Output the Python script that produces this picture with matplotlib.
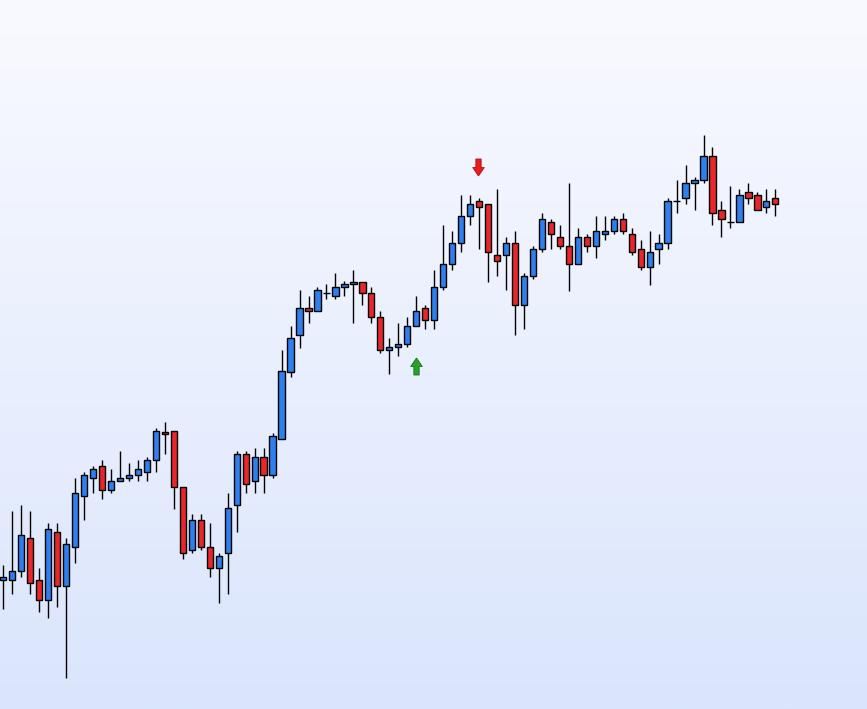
import matplotlib
matplotlib.use("Agg")
import matplotlib.pyplot as plt
import numpy as np
from matplotlib.patches import Rectangle
from matplotlib.path import Path

# OHLC values (arbitrary price units)
opens = [128.7, 128.7, 137.7, 170.7, 128.7, 108.7, 176.7, 122.7, 161.7, 212.7,
         230.7, 242.7, 218.7, 227.7, 230.7, 233.7, 236.7, 248.7, 277.3, 277.7,
         221.7, 158.7, 188.7, 161.7, 140.7, 155.7, 203.7, 254.7, 227.7, 251.7,
         233.7, 269.7, 337.3, 373.7, 400.7, 397.7, 415.7, 412.7, 421.7, 424.7,
         426.7, 415.7, 391.7, 358.7, 361.7, 364.7, 382.7, 400.7, 388.7, 421.7,
         444.7, 465.7, 492.7, 507.7, 504.7, 453.7, 453.7, 465.7, 403.7, 432.7,
         459.7, 486.7, 471.7, 462.7, 444.7, 471.7, 462.7, 474.7, 477.7, 489.7,
         474.7, 459.7, 441.7, 459.7, 465.7, 507.7, 510.7, 525.7, 528.7, 552.7,
         498.7, 486.7, 486.7, 516.7, 513.7, 501.7, 510.7]
highs = [144.0, 198.0, 203.7, 197.7, 140.7, 185.7, 185.7, 170.7, 230.7, 237.0,
         242.7, 248.7, 239.7, 257.7, 245.7, 248.7, 251.7, 280.7, 286.7, 277.7,
         221.7, 194.7, 194.7, 185.7, 155.7, 215.7, 257.7, 257.7, 260.7, 260.7,
         275.7, 359.0, 383.0, 419.0, 413.0, 421.7, 424.7, 435.7, 427.7, 438.7,
         426.7, 421.7, 397.7, 370.7, 386.0, 391.7, 413.0, 403.7, 438.7, 484.0,
         478.0, 514.0, 514.0, 510.7, 504.7, 519.7, 471.7, 478.0, 435.7, 462.7,
         495.7, 489.7, 483.7, 525.7, 480.7, 474.7, 493.0, 493.0, 493.0, 496.0,
         480.7, 468.7, 477.7, 474.7, 510.7, 528.7, 543.7, 531.7, 573.7, 561.7,
         507.7, 522.7, 519.7, 525.7, 516.7, 519.7, 519.7]
lows = [99.7, 114.7, 131.7, 114.7, 96.7, 90.7, 102.3, 30.7, 146.3, 188.7,
        215.7, 209.7, 215.7, 227.7, 227.7, 227.7, 227.7, 236.7, 254.7, 200.3,
        149.7, 155.7, 158.7, 131.7, 105.7, 114.7, 176.7, 215.7, 215.7, 215.7,
        230.7, 269.7, 331.7, 361.3, 385.7, 397.7, 409.7, 409.7, 412.7, 385.7,
        403.7, 385.7, 355.7, 334.7, 352.7, 361.7, 382.7, 379.7, 379.7, 418.7,
        438.7, 456.7, 483.7, 459.7, 426.7, 432.7, 418.7, 373.7, 379.7, 429.7,
        456.7, 459.7, 459.7, 418.3, 444.7, 456.7, 450.7, 468.7, 474.7, 474.7,
        453.7, 438.7, 424.3, 444.7, 459.7, 495.7, 504.7, 498.7, 525.7, 483.7,
        471.7, 480.7, 486.7, 504.7, 498.7, 495.7, 492.7]
closes = [131.7, 137.7, 173.7, 125.7, 108.7, 179.7, 122.7, 164.7, 215.7, 233.7,
          239.7, 218.7, 227.7, 230.7, 233.7, 239.7, 248.7, 277.7, 274.7, 221.7,
          155.7, 188.7, 161.7, 140.7, 152.7, 200.7, 254.7, 224.7, 251.7, 233.7,
          272.7, 337.7, 370.7, 400.7, 397.7, 418.7, 415.7, 421.7, 424.7, 426.7,
          415.7, 391.7, 359.0, 361.7, 364.7, 382.7, 397.7, 388.7, 421.7, 444.7,
          465.7, 492.7, 504.7, 501.7, 456.7, 447.7, 465.7, 403.7, 432.7, 459.7,
          489.7, 474.7, 462.7, 444.7, 471.7, 462.7, 477.7, 477.7, 489.7, 477.7,
          456.7, 441.7, 456.7, 465.7, 507.7, 507.7, 525.7, 528.7, 552.7, 495.7,
          489.7, 486.7, 513.7, 510.7, 498.7, 507.7, 504.7]

# Signal arrows: (candle index, price level of arrow centre)
buy_signals = [(46, 342.8)]
sell_signals = [(53, 542.3)]

UP_COLOR = "#2f80ef"
DOWN_COLOR = "#e8262b"

fig = plt.figure(figsize=(8.67, 7.09), dpi=100)
ax = fig.add_axes([0, 0, 1, 1])
ax.set_axis_off()

n = len(opens)
step_px = 8.977
x0 = -3.3 / step_px
ax.set_xlim(x0, x0 + 867 / step_px)
ax.set_ylim(0, 709)

# gradient background
grad = np.linspace(0, 1, 256).reshape(-1, 1)
top = np.array([0xf9, 0xfa, 0xff]) / 255
bot = np.array([0xda, 0xe5, 0xfc]) / 255
img = top[None, None, :] * (1 - grad[:, :, None]) + bot[None, None, :] * grad[:, :, None]
ax.imshow(img, extent=[x0, x0 + 867 / step_px, 0, 709], aspect="auto", zorder=0)

w = 0.7
for i in range(n):
    o, h, l, c = opens[i], highs[i], lows[i], closes[i]
    up = c >= o
    col = UP_COLOR if up else DOWN_COLOR
    ax.plot([i, i], [l, h], color="black", lw=1.0, zorder=2, solid_capstyle="butt")
    lo_b, hi_b = min(o, c), max(o, c)
    ax.add_patch(Rectangle((i - w / 2, lo_b), w, hi_b - lo_b, facecolor=col,
                           edgecolor="black", lw=1.0, zorder=3))

# arrow marker shapes
up_verts = [(0, 0.5), (0.34, 0.0), (0.155, 0.0), (0.155, -0.5), (-0.155, -0.5),
            (-0.155, 0.0), (-0.34, 0.0), (0, 0.5)]
up_path = Path(up_verts)
down_path = Path([(x, -y) for x, y in up_verts])

bx = [s[0] for s in buy_signals]
by = [s[1] for s in buy_signals]
sx = [s[0] - 0.15 for s in sell_signals]
sy = [s[1] for s in sell_signals]
ax.scatter(bx, by, marker=up_path, s=150, color="#27a327", edgecolors="#17701a",
           linewidths=0.6, zorder=4)
ax.scatter(sx, sy, marker=down_path, s=150, color="#ea1b1b", edgecolors="#b01010",
           linewidths=0.6, zorder=4)

fig.savefig("out.png", dpi=100)
